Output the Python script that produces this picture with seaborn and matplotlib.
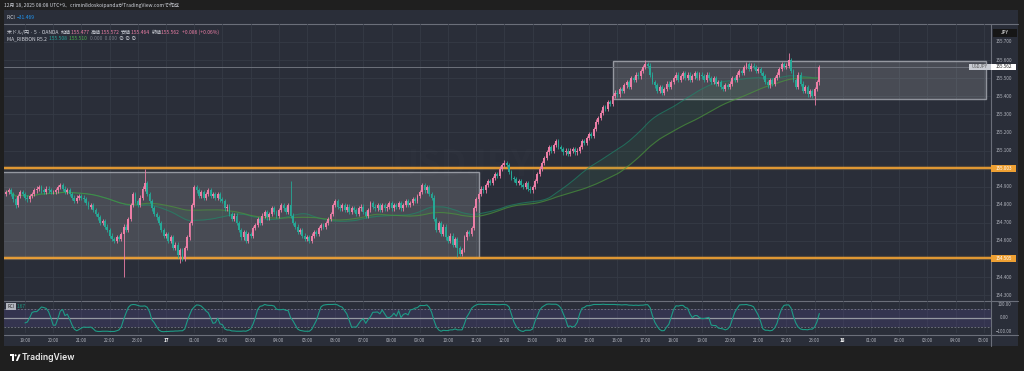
import numpy as np
import pandas as pd
import matplotlib
matplotlib.use("Agg")
import matplotlib.pyplot as plt
import matplotlib.transforms as mtransforms
from matplotlib.patches import Rectangle, Polygon, Circle
from matplotlib.offsetbox import TextArea, HPacker, AnnotationBbox
import seaborn as sns

# USDJPY 5分足 (OANDA) 12/16 18:20 - 12/17 23:10 JST, 終値
close_16_evening = [
    154.87, 154.88, 154.86, 154.83, 154.80, 154.85, 154.87, 154.86,
    154.84, 154.83, 154.85, 154.86, 154.88, 154.89, 154.90, 154.88, 154.87, 154.89, 154.88, 154.87,
    154.87, 154.88, 154.90, 154.91, 154.89, 154.87, 154.88, 154.86, 154.84, 154.82, 154.84, 154.85,
    154.84, 154.83, 154.81, 154.79, 154.80, 154.77, 154.75, 154.73, 154.70, 154.71, 154.68, 154.66,
    154.63, 154.61, 154.60, 154.62, 154.61, 154.64, 154.68, 154.66, 154.72, 154.80, 154.86, 154.82,
    154.80, 154.84, 154.89, 154.92, 154.86, 154.82, 154.78, 154.75, 154.73, 154.70, 154.66, 154.63,
]
close_17_night = [
    154.64, 154.60, 154.62, 154.56, 154.58, 154.52, 154.55, 154.50, 154.56, 154.62, 154.70, 154.80,
    154.90, 154.88, 154.85, 154.87, 154.84, 154.86, 154.88, 154.85, 154.86, 154.84, 154.86, 154.83,
    154.82, 154.78, 154.79, 154.75, 154.72, 154.74, 154.70, 154.66, 154.62, 154.65, 154.60, 154.64,
    154.63, 154.67, 154.69, 154.72, 154.70, 154.74, 154.76, 154.73, 154.75, 154.78, 154.76, 154.74,
    154.77, 154.80, 154.78, 154.76, 154.80, 154.74, 154.70, 154.68, 154.65, 154.66, 154.63, 154.61,
    154.62, 154.60, 154.63, 154.65, 154.64, 154.67, 154.69, 154.68, 154.70, 154.72, 154.75, 154.80,
]
close_17_morning = [
    154.82, 154.79, 154.78, 154.80, 154.77, 154.79, 154.76, 154.78, 154.77, 154.75, 154.78, 154.79,
    154.76, 154.74, 154.77, 154.81, 154.79, 154.78, 154.80, 154.77, 154.80, 154.78, 154.79, 154.81,
    154.78, 154.80, 154.79, 154.81, 154.78, 154.80, 154.82, 154.80, 154.81, 154.83, 154.82, 154.85,
    154.87, 154.91, 154.88, 154.90, 154.86, 154.84, 154.72, 154.66, 154.70, 154.64, 154.68, 154.62,
    154.60, 154.63, 154.58, 154.61, 154.56, 154.53, 154.55, 154.62, 154.65, 154.64, 154.67, 154.78,
    154.83, 154.86, 154.89, 154.88, 154.91, 154.93, 154.92, 154.95, 154.97, 154.96, 155.00, 155.02,
]
close_17_afternoon = [
    155.03, 155.02, 154.98, 154.95, 154.94, 154.92, 154.93, 154.91, 154.90, 154.92, 154.89, 154.88,
    154.90, 154.93, 154.97, 155.00, 155.03, 155.06, 155.09, 155.12, 155.10, 155.13, 155.15, 155.12,
    155.11, 155.09, 155.10, 155.08, 155.10, 155.11, 155.09, 155.10, 155.12, 155.15, 155.14, 155.17,
    155.19, 155.18, 155.22, 155.26, 155.28, 155.31, 155.34, 155.33, 155.37, 155.36, 155.40, 155.42,
    155.41, 155.44, 155.43, 155.46, 155.48, 155.45, 155.50, 155.49, 155.52, 155.51, 155.54, 155.56,
    155.58, 155.57, 155.52, 155.48, 155.46, 155.43, 155.45, 155.42, 155.44, 155.47, 155.45, 155.48,
]
close_17_evening = [
    155.50, 155.52, 155.49, 155.51, 155.53, 155.50, 155.52, 155.49, 155.51, 155.53, 155.50, 155.52,
    155.51, 155.49, 155.52, 155.50, 155.48, 155.50, 155.47, 155.48, 155.45, 155.44, 155.46, 155.45,
    155.47, 155.50, 155.49, 155.52, 155.54, 155.53, 155.56, 155.58, 155.55, 155.57, 155.56, 155.54,
    155.55, 155.53, 155.51, 155.48, 155.46, 155.49, 155.47, 155.50, 155.52, 155.55, 155.58, 155.56,
    155.57, 155.60, 155.54, 155.49, 155.45, 155.52, 155.47, 155.43, 155.45, 155.41, 155.43, 155.40,
    155.44, 155.477, 155.562,
]
first_open = 154.860

# 目立つヒゲ
high_spikes = {
    "2025-12-16 23:15": 155.000, "2025-12-17 04:25": 154.930, "2025-12-17 12:00": 155.050,
    "2025-12-17 17:00": 155.600, "2025-12-17 22:05": 155.640, "2025-12-17 23:10": 155.572,
}
low_spikes = {
    "2025-12-16 18:40": 154.780, "2025-12-16 22:30": 154.400, "2025-12-17 00:30": 154.480,
    "2025-12-17 10:20": 154.510, "2025-12-17 23:00": 155.350, "2025-12-17 23:10": 155.464,
}

# 水平線とレンジボックス
orange_levels = [155.003, 154.505]
range_boxes = [
    ("2025-12-16 17:30", "2025-12-17 11:05", 154.506, 154.980),
    ("2025-12-17 15:50", "2025-12-18 05:05", 155.387, 155.593),
]
last_price = 155.562
price_ticks = [154.3, 154.4, 154.6, 154.7, 154.8, 154.9, 155.1, 155.2, 155.3, 155.4, 155.5, 155.6, 155.7]

BG = "#1f1f1f"
CHART = "#2a2e39"
GRID = "#353a46"
UP = "#ec7ea6"
DOWN = "#26a896"
ORANGE = "#eea033"
TXT = "#d1d4dc"
FONT = ["Noto Sans CJK JP", "DejaVu Sans"]

sns.set_theme(style="dark")
plt.rcParams["font.family"] = FONT

close = np.array(close_16_evening + close_17_night + close_17_morning + close_17_afternoon + close_17_evening)
times = pd.date_range("2025-12-16 18:20", periods=len(close), freq="5min")
base = pd.Timestamp("2025-12-16 19:00")


def to_h(t):
    return (pd.Timestamp(t) - base) / pd.Timedelta(hours=1)


xh = np.asarray((times - base) / pd.Timedelta(hours=1), dtype=float)
opn = np.r_[first_open, close[:-1]]
high = np.maximum(opn, close) + 0.012
low = np.minimum(opn, close) - 0.012
for t, v in high_spikes.items():
    high[times.get_loc(pd.Timestamp(t))] = v
for t, v in low_spikes.items():
    low[times.get_loc(pd.Timestamp(t))] = v

df = pd.DataFrame({"h": xh, "open": opn, "close": close, "high": high, "low": low})
df["ma1"] = df["close"].rolling(50, min_periods=1).mean()
df["ma2"] = df["close"].rolling(80, min_periods=1).mean()


def rci(values, n=9):
    out = np.full(len(values), np.nan)
    time_rank = np.arange(n, 0, -1)
    for i in range(n - 1, len(values)):
        w = pd.Series(values[i - n + 1:i + 1])
        d = time_rank - w.rank(ascending=False).to_numpy()
        out[i] = (1 - 6 * (d ** 2).sum() / (n * (n * n - 1))) * 100
    return out


df["rci"] = rci(close)

W, H = 1024, 371
fig = plt.figure(figsize=(W / 100, H / 100), dpi=100)
fig.patch.set_facecolor(BG)


def px_rect(x0, y0, x1, y1):
    return [x0 / W, 1 - y1 / H, (x1 - x0) / W, (y1 - y0) / H]


# 背景フレーム
bg = fig.add_axes([0, 0, 1, 1], zorder=0)
bg.set_xlim(0, W)
bg.set_ylim(H, 0)
bg.axis("off")
bg.add_patch(Rectangle((4, 10), 1014, 336, fc=CHART, ec="none"))
for yy in [24, 300.5, 334.5]:
    bg.plot([4, 1018], [yy, yy], color="#6b6f7a", lw=0.8)
bg.plot([991, 991], [24, 346], color="#6b6f7a", lw=0.8)

xlim = ((4 - 25) / 28.2, (991 - 25) / 28.2)
hours = np.arange(0, 35)

# メインチャート
ax = fig.add_axes(px_rect(4, 24, 991, 300), zorder=1)
ax.set_facecolor("none")
ax.set_xlim(*xlim)
ax.set_ylim(155.7 - (300 - 42) / 180.9, 155.7 + (42 - 24) / 180.9)
ax.set_xticks(hours)
ax.set_yticks(np.round(np.arange(154.3, 155.75, 0.1), 1))
ax.grid(True, color=GRID, lw=0.6)
ax.tick_params(length=0, labelbottom=False, labelleft=False)
for s in ax.spines.values():
    s.set_visible(False)

ax.text(to_h("2025-12-17 10:30"), 155.02, "USDJPY", color="white", alpha=0.012,
        fontsize=26, ha="center", va="center", fontweight="bold")

for t0, t1, p0, p1 in range_boxes:
    ax.add_patch(Rectangle((to_h(t0), p0), to_h(t1) - to_h(t0), p1 - p0,
                           fc="#ffffff", alpha=0.14, ec="none", zorder=1))
    ax.add_patch(Rectangle((to_h(t0), p0), to_h(t1) - to_h(t0), p1 - p0,
                           fc="none", ec="#a3a6ae", lw=1.0, alpha=0.85, zorder=2))

for lvl in orange_levels:
    ax.axhline(lvl, color=ORANGE, lw=3.0, alpha=0.25, zorder=2)
    ax.axhline(lvl, color=ORANGE, lw=1.3, zorder=2)
ax.axhline(last_price, color="#6e727c", lw=0.7, zorder=2)

ax.fill_between(df["h"], df["ma1"], df["ma2"], color="#3f8f55", alpha=0.12, lw=0, zorder=3)
sns.lineplot(data=df, x="h", y="ma1", ax=ax, color="#1f8a6a", lw=0.8, alpha=0.65,
             estimator=None, legend=False, zorder=3)
sns.lineplot(data=df, x="h", y="ma2", ax=ax, color="#4c9a3a", lw=0.8, alpha=0.65,
             estimator=None, legend=False, zorder=3)
ax.set_xlabel("")
ax.set_ylabel("")

colors = np.where(df["close"] >= df["open"], UP, DOWN)
ax.vlines(df["h"], df["low"], df["high"], colors=colors, lw=0.6, zorder=4)
body_lo = np.minimum(df["open"], df["close"])
body_h = np.maximum(np.abs(df["close"] - df["open"]), 0.003)
ax.bar(df["h"], body_h, bottom=body_lo, width=0.065, color=colors, lw=0, zorder=5)

# RCI ペイン
rx = fig.add_axes(px_rect(4, 301, 991, 333), zorder=1)
rx.set_facecolor("none")
rx.set_xlim(*xlim)
rx.set_ylim(-109.4, 121.7)
rx.set_xticks(hours)
rx.set_yticks([])
rx.grid(True, axis="x", color=GRID, lw=0.6)
rx.tick_params(length=0, labelbottom=False, labelleft=False)
for s in rx.spines.values():
    s.set_visible(False)
rx.axhspan(-63, 63, color="#5b4a9e", alpha=0.22, lw=0)
rx.axhline(0, color="#9598a1", lw=0.9)
for lv in (63, -63):
    rx.axhline(lv, color="#787b86", lw=0.6, ls=(0, (2, 2)))
sns.lineplot(data=df, x="h", y="rci", ax=rx, color="#1e9b86", lw=0.8, estimator=None, legend=False)
rx.set_xlabel("")
rx.set_ylabel("")

# 重ね書き用
ov = fig.add_axes([0, 0, 1, 1], zorder=5)
ov.set_xlim(0, W)
ov.set_ylim(H, 0)
ov.axis("off")
ov.patch.set_visible(False)


def rich(parts, x, y, size=3.6):
    kids = [TextArea(s, textprops=dict(color=c, fontsize=size, family=FONT)) for s, c in parts]
    pack = HPacker(children=kids, align="baseline", pad=0, sep=0)
    ov.add_artist(AnnotationBbox(pack, (x, y), xycoords="data", box_alignment=(0, 0.5),
                                 frameon=False, pad=0))


ov.text(4, 5.5, "12月 18, 2025 08:08 UTC+9、crimin8doskoipandaがTradingView.comで作成",
        color=TXT, fontsize=3.6, va="center", ha="left")
rich([("RCI  ", TXT), ("−31.469", "#2196f3")], 7, 17.3)
rich([("米ドル/円 · 5 · OANDA  ", TXT), ("始値", TXT), ("155.477  ", UP), ("高値", TXT), ("155.572  ", UP),
      ("安値", TXT), ("155.464  ", UP), ("終値", TXT), ("155.562  ", UP), ("+0.086 (+0.06%)", UP)], 7, 32)
rich([("MA_RIBBON R5.2  ", TXT), ("155.508  ", "#26a69a"), ("155.510  ", "#4caf50"),
      ("0.000  0.000  ", "#787b86"), ("∅ ∅ ∅", TXT)], 7, 38.8)

ov.text(11, 306.5, "RCI", color="#1f1f1f", fontsize=3.2, va="center", ha="center",
        bbox=dict(boxstyle="square,pad=0.25", fc="#b2b5be", ec="none"))
ov.text(16.5, 306.5, "1.67", color="#1e9b86", fontsize=3.4, va="center", ha="left")

# 価格軸
py = mtransforms.blended_transform_factory(ov.transData, ax.transData)
for p in price_ticks:
    ov.text(1004, p, f"{p:.3f}", transform=py, color="#b2b5be", fontsize=3.3, ha="center", va="center")
for lvl in orange_levels:
    ov.add_patch(Rectangle((991, lvl - 0.019), 25, 0.038, transform=py, fc=ORANGE, ec="none"))
    ov.text(1003.5, lvl, f"{lvl:.3f}", transform=py, color="white", fontsize=3.3, ha="center", va="center")
ov.add_patch(Rectangle((969, last_price - 0.017), 22, 0.034, transform=py, fc="#c9ccd3", ec="none"))
ov.add_patch(Rectangle((991, last_price - 0.017), 25, 0.034, transform=py, fc="white", ec="none"))
ov.text(980, last_price, "USDJPY", transform=py, color="#555", fontsize=3.1, ha="center", va="center")
ov.text(1003.5, last_price, f"{last_price:.3f}", transform=py, color="#222", fontsize=3.3,
        ha="center", va="center")
ov.add_patch(Rectangle((993, 28.5), 24, 8.5, fc="#161616", ec="none"))
ov.text(1005, 32.8, "JPY", color="white", fontsize=3.3, ha="center", va="center")

ry = mtransforms.blended_transform_factory(ov.transData, rx.transData)
for v, lab in [(100, "100.00"), (0, "0.00"), (-100, "−100.00")]:
    ov.text(1004, v, lab, transform=ry, color="#b2b5be", fontsize=3.2, ha="center", va="center")

# 時間軸
tx = mtransforms.blended_transform_factory(ax.transData, ov.transData)
for h in hours:
    hr = (19 + h) % 24
    if hr == 0:
        lab = "17" if h < 24 else "18"
        ov.text(h, 340, lab, transform=tx, color="white", fontsize=3.4, fontweight="bold",
                ha="center", va="center")
    else:
        ov.text(h, 340, f"{hr:02d}:00", transform=tx, color="#b2b5be", fontsize=3.2,
                ha="center", va="center")

# ロゴ
ov.add_patch(Rectangle((9.5, 354.3), 4.6, 1.9, fc="white", ec="none"))
ov.add_patch(Rectangle((11.6, 354.3), 1.9, 6.6, fc="white", ec="none"))
ov.add_patch(Circle((15.6, 355.3), 1.0, fc="white", ec="none"))
ov.add_patch(Polygon([(15.8, 360.9), (18.6, 354.3), (20.6, 354.3), (17.8, 360.9)], fc="white", ec="none"))
ov.text(22, 357.8, "TradingView", color="#ececec", fontsize=6.2, ha="left", va="center",
        family=["Inter", "DejaVu Sans"], fontweight="semibold")

fig.savefig("out.png", dpi=100, facecolor=BG)
